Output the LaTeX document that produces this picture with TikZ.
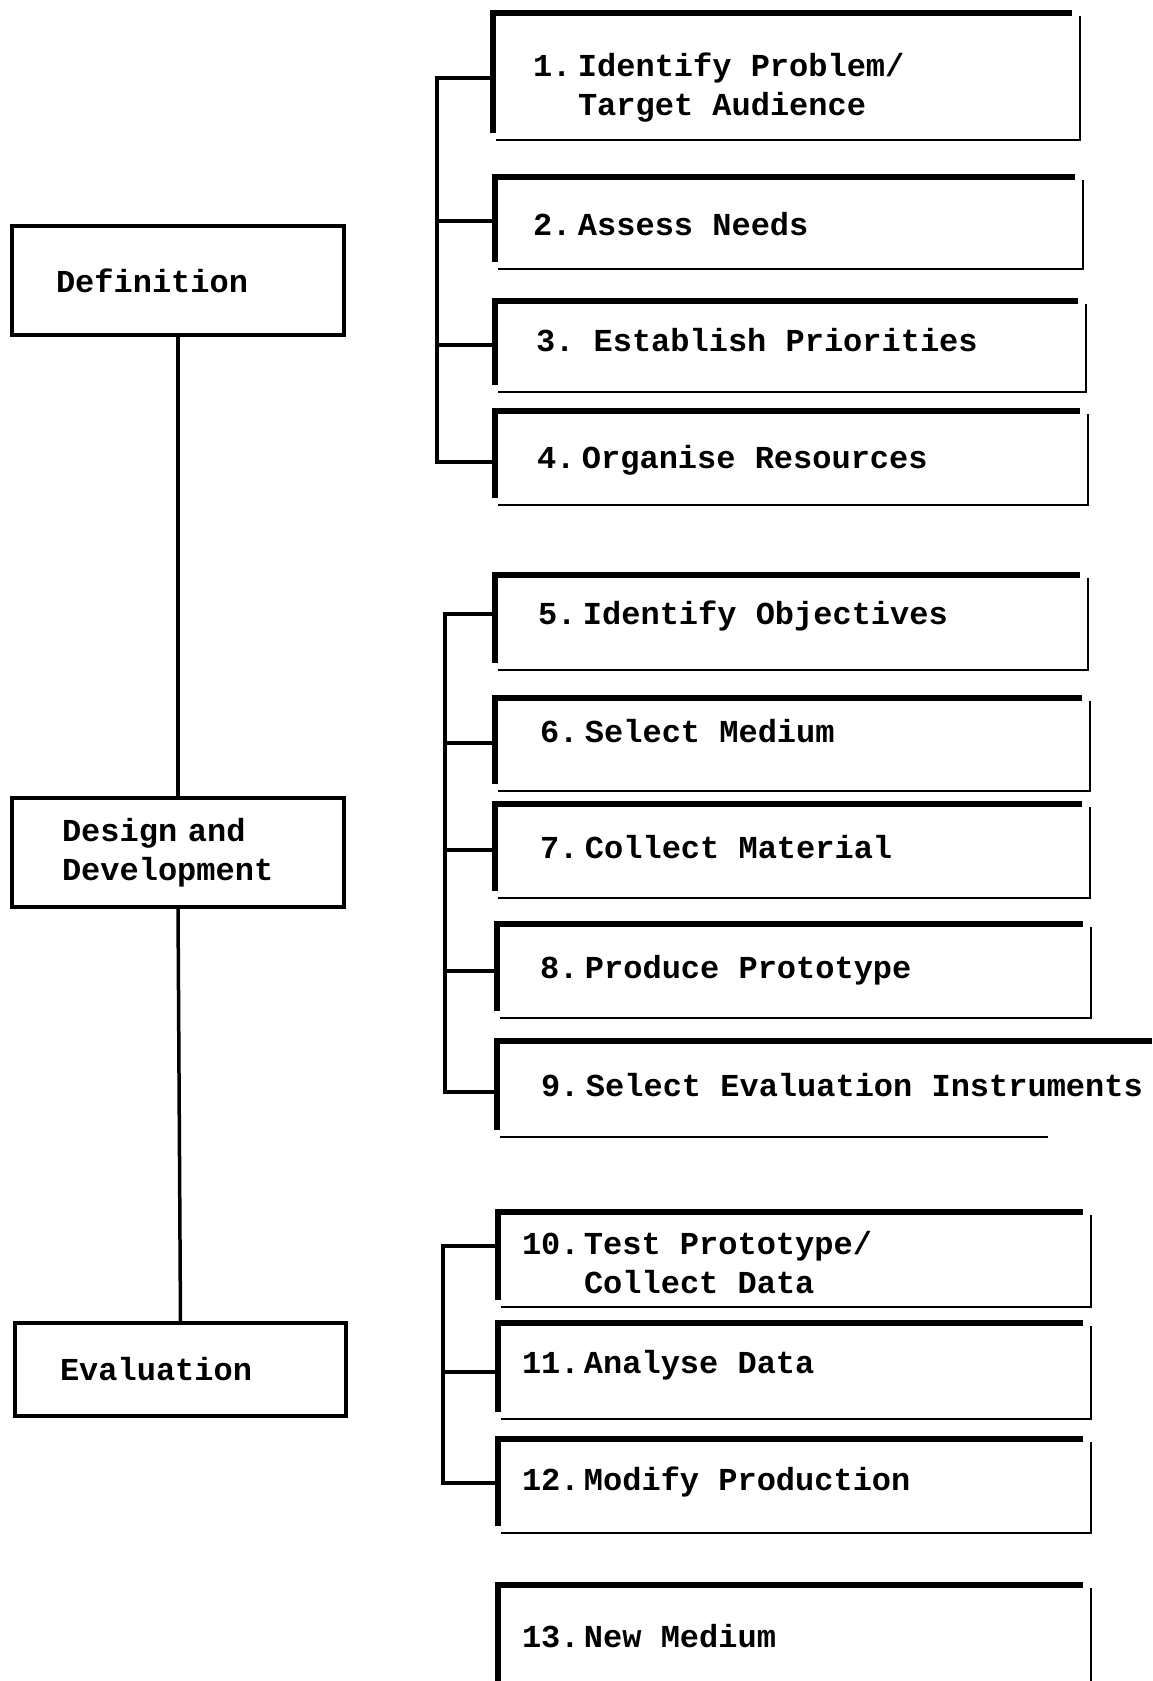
\documentclass[tikz,border=0pt]{standalone}
\usepackage{fontspec}
\setmonofont{Liberation Mono}
\usetikzlibrary{calc}
\newcommand\rlines[1]{%
  \draw[thinln] ([xshift=3pt]#1.south west) -- (#1.south east) -- ([yshift=-3pt]#1.north east);
  \draw[thickln] ([yshift=7pt]#1.south west) -- (#1.north west) -- ([xshift=-8pt]#1.north east);}
\begin{document}
\begin{tikzpicture}[x=1pt,y=-1pt,
  every node/.style={font=\ttfamily\bfseries\fontsize{32}{39}\selectfont, inner sep=0pt, outer sep=0pt},
  lbox/.style={draw, line width=3.2pt, anchor=north west, align=left, inner ysep=0pt},
  rbox/.style={anchor=north west, draw=none},
  thinln/.style={line width=1.6pt},
  thickln/.style={line width=6pt, line join=miter},
  brk/.style={line width=4pt, line join=miter},
  trunk/.style={line width=3.5pt},
  lbl/.style={anchor=base west},
  lbltwo/.style={anchor=west, align=left}]
\useasboundingbox (0,0) rectangle (1152,1681);

% left column
\node[lbox, minimum width=332pt, minimum height=109pt, text width=244pt, inner xsep=44pt] (def) at (12,226) {Definition};
\node[lbox, minimum width=332pt, minimum height=109pt, text width=232pt, inner xsep=50pt] (dd) at (12,798) {Design and\\Development};
\node[lbox, minimum width=331pt, minimum height=93pt, text width=241pt, inner xsep=45pt] (ev) at (15,1323) {Evaluation};
\draw[trunk] (def.south) -- (dd.north);
\draw[trunk] (dd.south) -- (ev.north);

% right boxes
\node[rbox, minimum width=587pt, minimum height=127pt] (b1) at (493,13) {};
\node[rbox, minimum width=588pt, minimum height=92pt] (b2) at (495,177) {};
\node[rbox, minimum width=591pt, minimum height=91pt] (b3) at (495,301) {};
\node[rbox, minimum width=593pt, minimum height=94pt] (b4) at (495,411) {};
\node[rbox, minimum width=593pt, minimum height=95pt] (b5) at (495,575) {};
\node[rbox, minimum width=595pt, minimum height=93pt] (b6) at (495,698) {};
\node[rbox, minimum width=595pt, minimum height=94pt] (b7) at (495,804) {};
\node[rbox, minimum width=594pt, minimum height=94pt] (b8) at (497,924) {};
\node[rbox, minimum width=655pt, minimum height=96pt] (b9) at (497,1041) {};
\node[rbox, minimum width=593pt, minimum height=95pt] (b10) at (498,1212) {};
\node[rbox, minimum width=593pt, minimum height=96pt] (b11) at (498,1323) {};
\node[rbox, minimum width=593pt, minimum height=94pt] (b12) at (498,1439) {};
\node[rbox, minimum width=593pt, minimum height=96pt] (b13) at (498,1585) {};

\rlines{b1}\rlines{b2}\rlines{b3}\rlines{b4}
\rlines{b5}\rlines{b6}\rlines{b7}\rlines{b8}
\rlines{b10}\rlines{b11}\rlines{b12}
% box 9 (runs off the right edge)
\draw[thinln] ([xshift=3pt]b9.south west) -- ++(548,0);
\draw[thickln] ([yshift=7pt]b9.south west) -- (b9.north west) -- (b9.north east);
% box 13 (runs off the bottom edge)
\draw[thinln] ([yshift=-3pt]b13.north east) -- (b13.south east);
\draw[thickln] (b13.south west) -- (b13.north west) -- ([xshift=-8pt]b13.north east);

% texts
\node[lbltwo] (t1) at (533,88) {\makebox[45pt][l]{1.}Identify Problem/\\\hspace*{45pt}Target Audience};
\node[lbl] (t2) at (533,235) {\makebox[45pt][l]{2.}Assess Needs};
\node[lbl] (t3) at (536,351) {3. Establish Priorities};
\node[lbl] (t4) at (537,468) {\makebox[45pt][l]{4.}Organise Resources};
\node[lbl] (t5) at (538,624) {\makebox[45pt][l]{5.}Identify Objectives};
\node[lbl] (t6) at (540,742) {\makebox[45pt][l]{6.}Select Medium};
\node[lbl] (t7) at (540,858) {\makebox[45pt][l]{7.}Collect Material};
\node[lbl] (t8) at (540,978) {\makebox[45pt][l]{8.}Produce Prototype};
\node[lbl] (t9) at (541,1096) {\makebox[45pt][l]{9.}Select Evaluation Instruments};
\node[lbltwo] (t10) at (522,1263) {\makebox[62pt][l]{10.}Test Prototype/\\\hspace*{62pt}Collect Data};
\node[lbl] (t11) at (522,1373) {\makebox[62pt][l]{11.}Analyse Data};
\node[lbl] (t12) at (522,1490) {\makebox[62pt][l]{12.}Modify Production};
\node[lbl] (t13) at (522,1647) {\makebox[62pt][l]{13.}New Medium};

% brackets
\draw[brk] ($(b1.north west)+(0,65)$) -- ++(-56,0) |- ($(b4.north west)+(0,51)$);
\draw[brk] ($(b2.north west)+(0,44)$) -- ++(-58,0);
\draw[brk] ($(b3.north west)+(0,44)$) -- ++(-58,0);

\draw[brk] ($(b5.north west)+(0,39)$) -- ++(-50,0) |- ($(b9.north west)+(0,51)$);
\draw[brk] ($(b6.north west)+(0,45)$) -- ++(-50,0);
\draw[brk] ($(b7.north west)+(0,46)$) -- ++(-50,0);
\draw[brk] ($(b8.north west)+(0,47)$) -- ++(-52,0);

\draw[brk] ($(b10.north west)+(0,34)$) -- ++(-55,0) |- ($(b12.north west)+(0,44)$);
\draw[brk] ($(b11.north west)+(0,49)$) -- ++(-55,0);
\end{tikzpicture}
\end{document}
